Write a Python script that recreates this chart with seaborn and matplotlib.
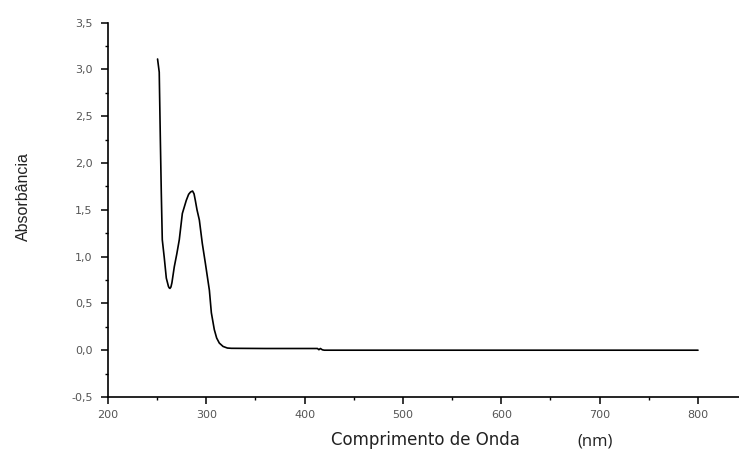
import matplotlib
matplotlib.use("Agg")
import matplotlib.pyplot as plt
from matplotlib.ticker import MultipleLocator, FuncFormatter
import seaborn as sns
import pandas as pd

# UV-Vis absorption spectrum readings
wavelength_nm = [250.4, 252.1, 253.2, 254.2, 255.2, 257.2, 259.3, 261.5, 262.3, 263.0,
                 264.0, 265.0, 267.4, 270.0, 272.5, 275.6, 279.6, 282.0, 284.0, 286.0,
                 287.5, 288.8, 290.5, 292.9, 295.9, 299.0, 303.1, 305.1, 308.1, 310.5,
                 313.2, 317.0, 321.4, 325.5, 360.0, 413.0, 414.5, 416.0, 418.0, 420.0,
                 500.0, 600.0, 700.0, 800.0]
absorbance = [3.11, 2.97, 2.27, 1.68, 1.18, 0.99, 0.77, 0.68, 0.665, 0.66,
              0.675, 0.72, 0.89, 1.03, 1.18, 1.46, 1.60, 1.665, 1.69, 1.70,
              1.67, 1.60, 1.50, 1.39, 1.14, 0.93, 0.64, 0.40, 0.22, 0.13,
              0.076, 0.04, 0.023, 0.02, 0.018, 0.018, 0.005, 0.018, 0.004, 0.0,
              0.0, 0.0, 0.0, 0.0]

x_major_ticks = [200, 300, 400, 500, 600, 700, 800]
y_major_ticks = [-0.5, 0.0, 0.5, 1.0, 1.5, 2.0, 2.5, 3.0, 3.5]

spectrum = pd.DataFrame({"wl": wavelength_nm, "abs": absorbance})

sns.set_theme(style="ticks")
plt.rcParams["font.family"] = ["DejaVu Sans"]

fig = plt.figure(figsize=(7.39, 4.55), dpi=100)
ax = fig.add_axes([108 / 739, 1 - 397 / 455, 1 - 108 / 739, (397 - 22.5) / 455])

sns.lineplot(data=spectrum, x="wl", y="abs", ax=ax, color="black",
             linewidth=1.2, sort=False, estimator=None)

ax.set_xlim(200, 841.7)
ax.set_ylim(-0.5, 3.5)
ax.set_xticks(x_major_ticks)
ax.set_yticks(y_major_ticks)
ax.xaxis.set_minor_locator(MultipleLocator(50))
ax.yaxis.set_minor_locator(MultipleLocator(0.25))
ax.yaxis.set_major_formatter(FuncFormatter(lambda v, p: f"{v:.1f}".replace(".", ",")))

for side in ("top", "right"):
    ax.spines[side].set_visible(False)
for side in ("left", "bottom"):
    ax.spines[side].set_linewidth(1.2)
    ax.spines[side].set_color("black")

ax.tick_params(axis="both", which="major", direction="out", length=5, width=1.1,
               color="black", labelsize=8, labelcolor="#555555")
ax.tick_params(axis="both", which="minor", direction="out", length=2.5, width=1.0,
               color="black")
ax.tick_params(axis="y", which="major", pad=6)
ax.tick_params(axis="x", which="major", pad=4)

ax.set_xlabel("")
ax.set_ylabel("Absorbância", family=["Liberation Sans", "DejaVu Sans"],
              fontsize=11.5, color="#222222")
ax.yaxis.set_label_coords(-0.122, 0.534)

fig.text(425 / 739, 1 - 440 / 455, "Comprimento de Onda", ha="center", va="center",
         fontsize=12, color="#222222")
fig.text(595 / 739, 1 - 441 / 455, "(nm)", ha="center", va="center",
         family=["Open Sans", "DejaVu Sans"], fontsize=12, color="#222222")

fig.savefig("out.png", dpi=100)
